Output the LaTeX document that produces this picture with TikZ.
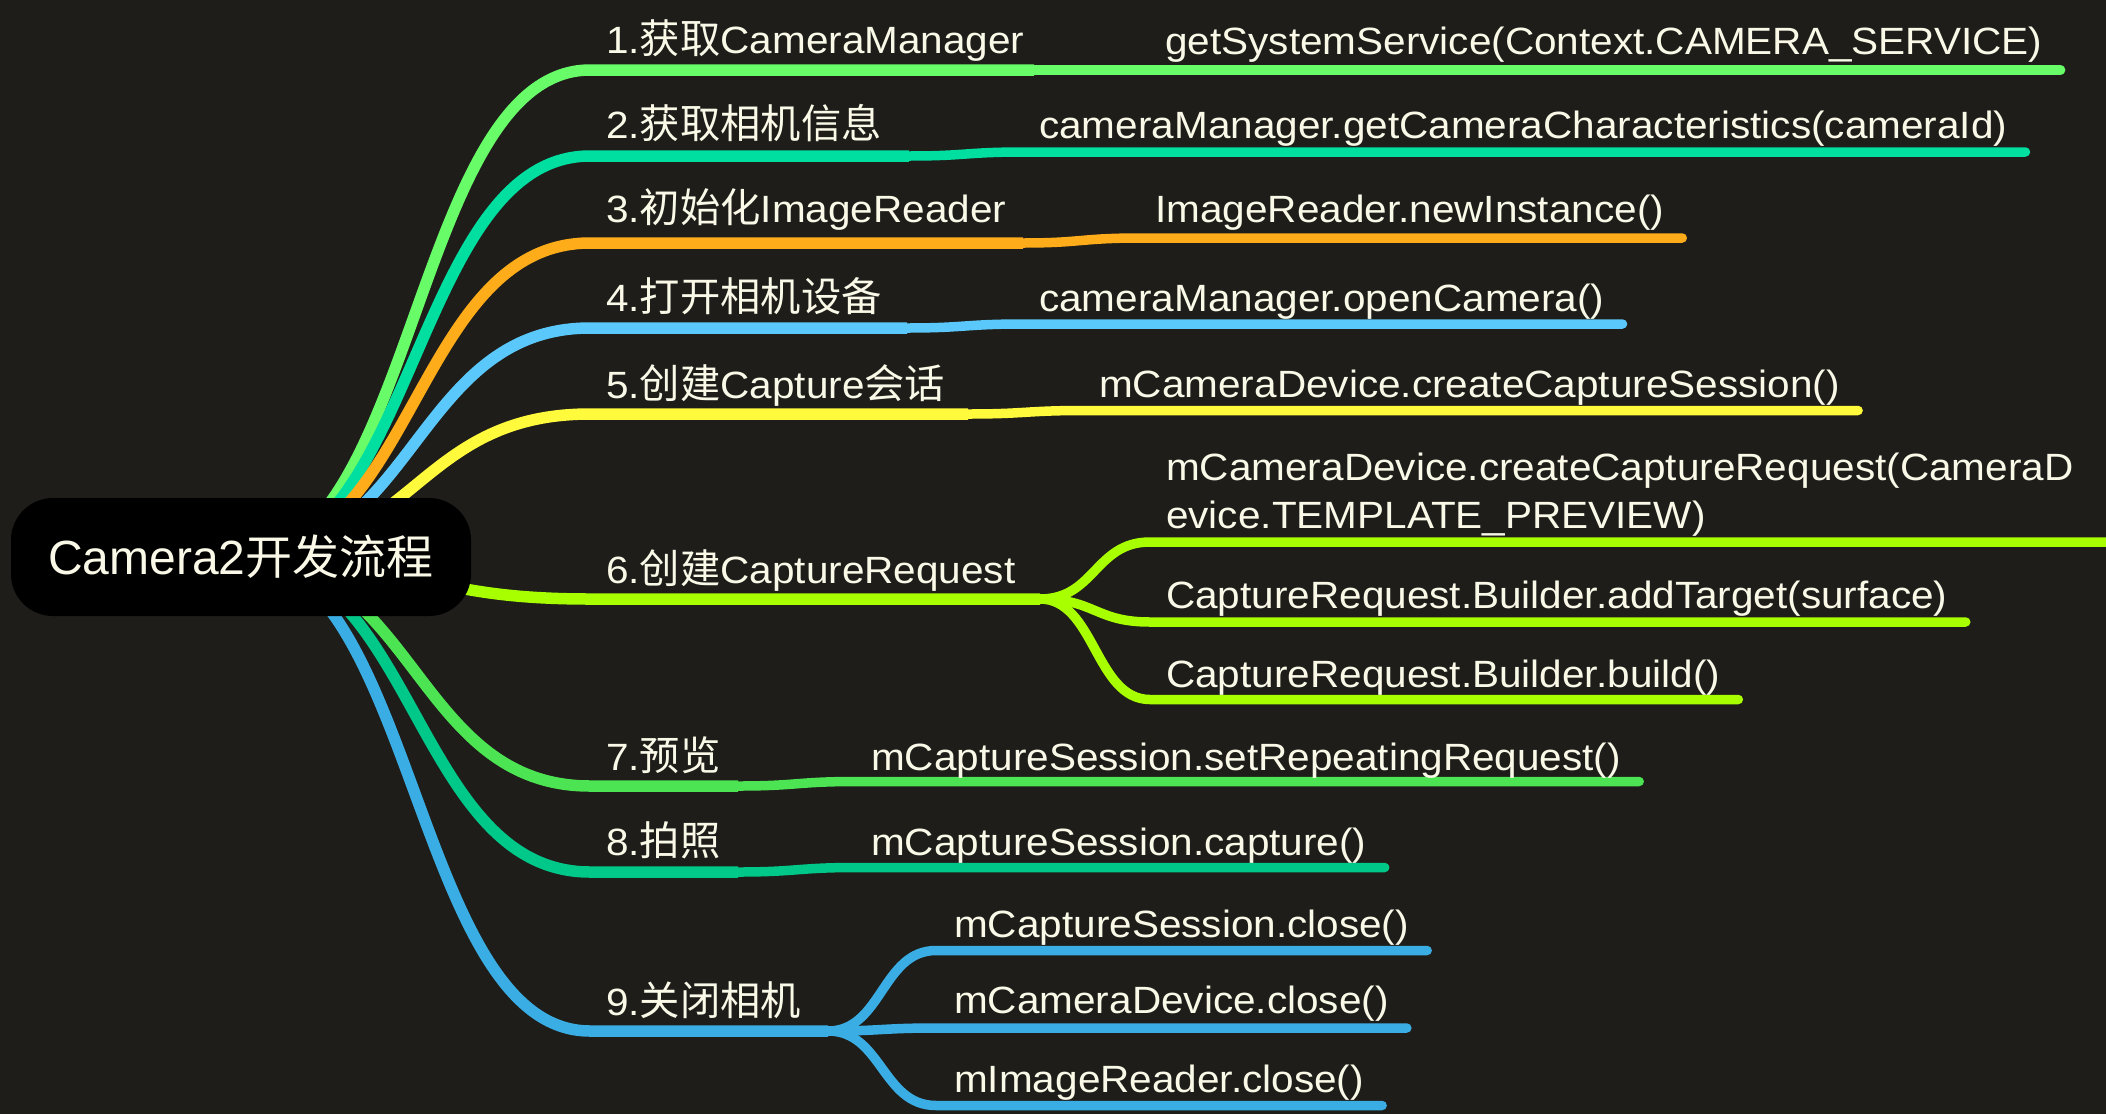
\documentclass[tikz,border=0pt]{standalone}
\usepackage{fontspec}
\setmainfont{Liberation Sans}[FakeStretch=1.066]
\newfontfamily\cjkf{Noto Sans CJK SC}[Scale=1.06]
\newfontfamily\latroot{Liberation Sans}
\newfontfamily\cjkroot{Noto Sans CJK SC}
\definecolor{bgc}{RGB}{30,29,26}
\definecolor{txt}{RGB}{250,248,230}
\definecolor{colA}{RGB}{105,252,105}
\definecolor{colB}{RGB}{0,222,160}
\definecolor{colC}{RGB}{255,172,26}
\definecolor{colD}{RGB}{90,200,250}
\definecolor{colE}{RGB}{255,250,60}
\definecolor{colF}{RGB}{168,255,0}
\definecolor{colG}{RGB}{76,228,82}
\definecolor{colH}{RGB}{0,200,136}
\definecolor{colI}{RGB}{58,174,228}
\pgfdeclarelayer{back}
\pgfdeclarelayer{lines}
\pgfsetlayers{back,lines,main}
\begin{document}
\begin{tikzpicture}[x=1pt,y=-1pt,
  lbl/.style={text=txt, inner sep=0pt, anchor=base west, font=\fontsize{38}{46}\selectfont},
  mainln/.style={line width=11.5pt},
  subln/.style={line width=9.5pt, line cap=round},
  rootbox/.style={fill=black, rounded corners=42pt, minimum width=460pt, minimum height=118pt, inner sep=0pt, text=txt}
]
\begin{pgfonlayer}{back}
\fill[bgc] (0,0) rectangle (2106,1114);
\end{pgfonlayer}
\useasboundingbox (0,0) rectangle (2106,1114);

% root
\node[rootbox] (root) at (241,557) {\latroot\fontsize{48}{58}\selectfont Camera2{\cjkroot\fontsize{47}{58}\selectfont 开发流程}};

% labels
\node[lbl] (b1) at (606,53) {1.{\cjkf 获取}CameraManager};
\node[lbl] (b2) at (606,138) {2.{\cjkf 获取相机信息}};
\node[lbl] (b3) at (606,222) {3.{\cjkf 初始化}ImageReader};
\node[lbl] (b4) at (606,311) {4.{\cjkf 打开相机设备}};
\node[lbl] (b5) at (606,398) {5.{\cjkf 创建}Capture{\cjkf 会话}};
\node[lbl] (b6) at (606,583) {6.{\cjkf 创建}CaptureRequest};
\node[lbl] (b7) at (606,770) {7.{\cjkf 预览}};
\node[lbl] (b8) at (606,855) {8.{\cjkf 拍照}};
\node[lbl] (b9) at (606,1015) {9.{\cjkf 关闭相机}};

% child texts
\node[lbl] (c1) at (1165,54) {getSystemService(Context.CAMERA\_SERVICE)};
\node[lbl] (c2) at (1039,138) {cameraManager.getCameraCharacteristics(cameraId)};
\node[lbl] (c3) at (1155,222) {ImageReader.newInstance()};
\node[lbl] (c4) at (1039,311) {cameraManager.openCamera()};
\node[lbl] (c5) at (1099,397) {mCameraDevice.createCaptureSession()};
\node[lbl] (c6a) at (1166,480) {mCameraDevice.createCaptureRequest(CameraD};
\node[lbl] (c6a2) at (1166,528) {evice.TEMPLATE\_PREVIEW)};
\node[lbl] (c6b) at (1166,608) {CaptureRequest.Builder.addTarget(surface)};
\node[lbl] (c6c) at (1166,687) {CaptureRequest.Builder.build()};
\node[lbl] (c7) at (871,770) {mCaptureSession.setRepeatingRequest()};
\node[lbl] (c8) at (871,855) {mCaptureSession.capture()};
\node[lbl] (c9a) at (954,937) {mCaptureSession.close()};
\node[lbl] (c9b) at (954,1013) {mCameraDevice.close()};
\node[lbl] (c9c) at (954,1092) {mImageReader.close()};

% forks and sub-line starts
\coordinate (f1) at (1034,70);   \coordinate (s1) at (1150,70);
\coordinate (f2) at (909,156);   \coordinate (s2) at (1024,152);
\coordinate (f3) at (1023,243);  \coordinate (s3) at (1140,238);
\coordinate (f4) at (907,328);   \coordinate (s4) at (1024,324);
\coordinate (f5) at (968,414);   \coordinate (s5) at (1084,410.5);
\coordinate (f6) at (1040,599);
\coordinate (s6a) at (1150,542); \coordinate (s6b) at (1150,622); \coordinate (s6c) at (1150,699.5);
\coordinate (f7) at (738,786);   \coordinate (s7) at (856,781.5);
\coordinate (f8) at (738,872);   \coordinate (s8) at (856,867.5);
\coordinate (f9) at (828,1031);
\coordinate (s9a) at (936,950.5); \coordinate (s9b) at (936,1028); \coordinate (s9c) at (936,1105.5);

% sub-line ends
\path (c1.east |- s1) ++(18,0) coordinate (e1);
\path (c2.east |- s2) ++(18,0) coordinate (e2);
\path (c3.east |- s3) ++(18,0) coordinate (e3);
\path (c4.east |- s4) ++(18,0) coordinate (e4);
\path (c5.east |- s5) ++(18,0) coordinate (e5);
\path (c6a.east |- s6a) ++(34,0) coordinate (e6a);
\path (c6b.east |- s6b) ++(18,0) coordinate (e6b);
\path (c6c.east |- s6c) ++(18,0) coordinate (e6c);
\path (c7.east |- s7) ++(18,0) coordinate (e7);
\path (c8.east |- s8) ++(18,0) coordinate (e8);
\path (c9a.east |- s9a) ++(18,0) coordinate (e9a);
\path (c9b.east |- s9b) ++(18,0) coordinate (e9b);
\path (c9c.east |- s9c) ++(18,0) coordinate (e9c);

\begin{pgfonlayer}{lines}
% main branches
\draw[mainln,colA] (root.center) .. controls (415,557) and (415,70) .. (590,70) -- (f1);
\draw[mainln,colB] (root.center) .. controls (415,557) and (415,156) .. (590,156) -- (f2);
\draw[mainln,colC] (root.center) .. controls (415,557) and (415,243) .. (590,243) -- (f3);
\draw[mainln,colD] (root.center) .. controls (415,557) and (415,328) .. (590,328) -- (f4);
\draw[mainln,colE] (root.center) .. controls (415,557) and (415,414) .. (590,414) -- (f5);
\draw[mainln,colF] (root.center) .. controls (415,557) and (415,599) .. (590,599) -- (f6);
\draw[mainln,colG] (root.center) .. controls (415,557) and (415,786) .. (590,786) -- (f7);
\draw[mainln,colH] (root.center) .. controls (415,557) and (415,872) .. (590,872) -- (f8);
\draw[mainln,colI] (root.center) .. controls (415,557) and (415,1031) .. (590,1031) -- (f9);
% sub branches
\draw[subln,colA] (f1) .. controls (1092,70) and (1092,70) .. (s1) -- (e1);
\draw[subln,colB] (f2) .. controls (966,156) and (966,152) .. (s2) -- (e2);
\draw[subln,colC] (f3) .. controls (1081,243) and (1081,238) .. (s3) -- (e3);
\draw[subln,colD] (f4) .. controls (965,328) and (965,324) .. (s4) -- (e4);
\draw[subln,colE] (f5) .. controls (1026,414) and (1026,410.5) .. (s5) -- (e5);
\draw[subln,colF] (f6) .. controls (1095,599) and (1095,542) .. (s6a) -- (e6a);
\draw[subln,colF] (f6) .. controls (1095,599) and (1095,622) .. (s6b) -- (e6b);
\draw[subln,colF] (f6) .. controls (1095,599) and (1095,699.5) .. (s6c) -- (e6c);
\draw[subln,colG] (f7) .. controls (797,786) and (797,781.5) .. (s7) -- (e7);
\draw[subln,colH] (f8) .. controls (797,872) and (797,867.5) .. (s8) -- (e8);
\draw[subln,colI] (f9) .. controls (882,1031) and (882,950.5) .. (s9a) -- (e9a);
\draw[subln,colI] (f9) .. controls (882,1031) and (882,1028) .. (s9b) -- (e9b);
\draw[subln,colI] (f9) .. controls (882,1031) and (882,1105.5) .. (s9c) -- (e9c);
\end{pgfonlayer}
\end{tikzpicture}
\end{document}
